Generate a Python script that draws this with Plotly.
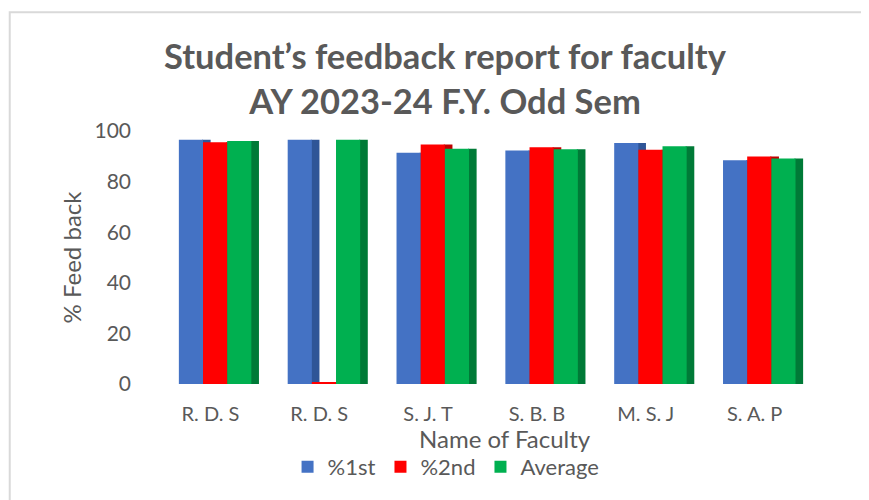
import plotly.graph_objects as go

faculty = ["R. D. S", "R. D. S", "S. J. T", "S. B. B", "M. S. J", "S. A. P"]
first_sem = [96.5, 96.5, 91.4, 92.3, 95.3, 88.4]
second_sem = [95.6, 0.6, 94.7, 93.6, 92.6, 89.9]
average = [96.0, 96.5, 93.0, 92.8, 94.0, 89.1]

series_names = ["%1st", "%2nd", "Average"]
series_colors = ["#4472C4", "#FF0000", "#00B050"]
side_colors = ["#2F5597", "#C00000", "#007A37"]
y_ticks = [0, 20, 40, 60, 80, 100]

TXT = "#595959"
FONT = "Lato, 'Open Sans', sans-serif"

# page has an 8px body margin; figure sized to fit the 869x500 window
W, H = 861, 492
L, R, T, B = 147.5, 59.5, 122.5, 116
pw = W - L - R
ph = H - T - B


def px_x(x):
    return (x - L) / pw


def px_y(y):
    return (H - B - y) / ph


fig = go.Figure()
idx = list(range(len(faculty)))
bw = 0.222          # front face width (category units)
sw = 0.07           # depth (side face) width
offsets = [-0.29, -0.068, 0.154]
all_vals = [first_sem, second_sem, average]

# side faces first (so the front faces of neighbours cover them)
for vals, off, scol in zip(all_vals, offsets, side_colors):
    fig.add_trace(go.Bar(x=idx, y=vals, offset=off + bw - 0.01, width=sw + 0.01,
                         marker=dict(color=scol, line=dict(width=0)),
                         showlegend=False, hoverinfo="skip"))
for name, vals, off, col in zip(series_names, all_vals, offsets, series_colors):
    fig.add_trace(go.Bar(x=idx, y=vals, name=name, offset=off, width=bw,
                         marker=dict(color=col, line=dict(width=0))))

fig.update_layout(
    width=W, height=H,
    margin=dict(l=L, r=R, t=T, b=B, autoexpand=False),
    paper_bgcolor="white", plot_bgcolor="white",
    barmode="overlay",
    font=dict(family=FONT, color=TXT),
    title=dict(
        text="<b>Student’s feedback report for faculty<br>AY 2023-24 F.Y. Odd Sem</b>",
        x=437 / W, xanchor="center", y=1 - 61 / H, yanchor="top", yref="container",
        font=dict(size=34.5, color=TXT, family=FONT),
    ),
    xaxis=dict(
        tickmode="array", tickvals=idx, ticktext=faculty,
        range=[-0.5, len(faculty) - 0.5], showgrid=False, zeroline=False,
        showline=False, ticks="", tickfont=dict(size=20, color=TXT), ticklabelstandoff=16,
    ),
    yaxis=dict(
        range=[0, 100], tickvals=y_ticks, showgrid=False, zeroline=False,
        showline=False, ticks="", tickfont=dict(size=21, color=TXT), ticklabelstandoff=24,
    ),
    legend=dict(
        orientation="h", x=px_x(438), xanchor="center", y=px_y(459), yanchor="middle",
        font=dict(size=22, color=TXT), itemwidth=30, traceorder="normal",
        bgcolor="rgba(0,0,0,0)",
    ),
    showlegend=True,
)

fig.add_annotation(text="Name of Faculty", xref="paper", yref="paper",
                   x=px_x(497), y=px_y(431), showarrow=False,
                   font=dict(size=24, color=TXT), xanchor="center", yanchor="middle")
fig.add_annotation(text="% Feed back", xref="paper", yref="paper",
                   x=px_x(63), y=px_y(248.5), showarrow=False, textangle=-90,
                   font=dict(size=24, color=TXT), xanchor="center", yanchor="middle")

# chart frame (light border, visible at left/top)
fig.add_shape(type="rect", xref="paper", yref="paper",
              x0=px_x(1), y0=px_y(520), x1=px_x(900), y1=px_y(3.5),
              line=dict(color="#D9D9D9", width=2), layer="below")

fig.write_html("out.html")
